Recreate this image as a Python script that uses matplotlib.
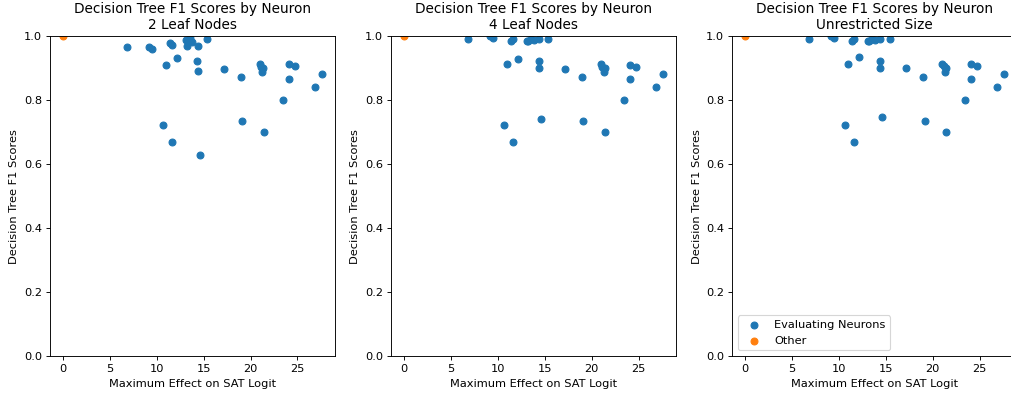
import matplotlib
matplotlib.use("Agg")
import matplotlib.pyplot as plt

# shared x values: maximum effect on SAT logit per evaluating neuron
effect = [6.78, 9.16, 9.52, 10.64, 11.01, 11.40, 11.64, 11.65, 12.11,
          13.07, 13.25, 13.53, 13.80, 14.33, 14.39, 14.39, 14.60, 15.39,
          17.13, 18.98, 19.12, 21.00, 21.15, 21.26, 21.37, 21.39,
          23.43, 24.07, 24.10, 24.70, 26.85, 27.63]

f1_2leaf = [0.964, 0.964, 0.959, 0.721, 0.909, 0.977, 0.669, 0.970, 0.930,
            0.986, 0.967, 0.993, 0.980, 0.920, 0.967, 0.891, 0.627, 0.991,
            0.896, 0.872, 0.734, 0.912, 0.903, 0.887, 0.898, 0.698,
            0.798, 0.865, 0.912, 0.905, 0.840, 0.879]

f1_4leaf = [0.991, 0.998, 0.993, 0.721, 0.912, 0.985, 0.669, 0.991, 0.927,
            0.985, 0.985, 0.990, 0.988, 0.922, 0.990, 0.899, 0.739, 0.991,
            0.896, 0.872, 0.734, 0.912, 0.903, 0.887, 0.898, 0.698,
            0.798, 0.865, 0.909, 0.903, 0.840, 0.879]

f1_unres = [0.991, 0.998, 0.993, 0.721, 0.912, 0.985, 0.669, 0.991, 0.933,
            0.985, 0.985, 0.990, 0.988, 0.922, 0.990, 0.899, 0.747, 0.991,
            0.899, 0.872, 0.734, 0.912, 0.905, 0.887, 0.898, 0.698,
            0.798, 0.865, 0.912, 0.906, 0.840, 0.879]

other_x = [0.0]
other_y = [1.0]

subtitles = ["2 Leaf Nodes", "4 Leaf Nodes", "Unrestricted Size"]
panel_scores = [f1_2leaf, f1_4leaf, f1_unres]

DPI = 82
W, H = 1011, 398
fig = plt.figure(figsize=(W / DPI + 0.004, H / DPI + 0.004), dpi=DPI)

lefts = [50, 391, 732]
width = 285
bottom, top = 356, 36

for i, (sub, scores) in enumerate(zip(subtitles, panel_scores)):
    ax = fig.add_axes([lefts[i] / W, (H - bottom) / H, width / W, (bottom - top) / H])
    ax.scatter(effect, scores, color="#1f77b4", label="Evaluating Neurons")
    ax.scatter(other_x, other_y, color="#ff7f0e", label="Other")
    ax.set_ylim(0, 1)
    ax.set_title("Decision Tree F1 Scores by Neuron\n" + sub)
    ax.set_xlabel("Maximum Effect on SAT Logit")
    ax.set_ylabel("Decision Tree F1 Scores")
    if i == 2:
        ax.legend(loc="lower left")

fig.savefig("out.png", dpi=DPI)
